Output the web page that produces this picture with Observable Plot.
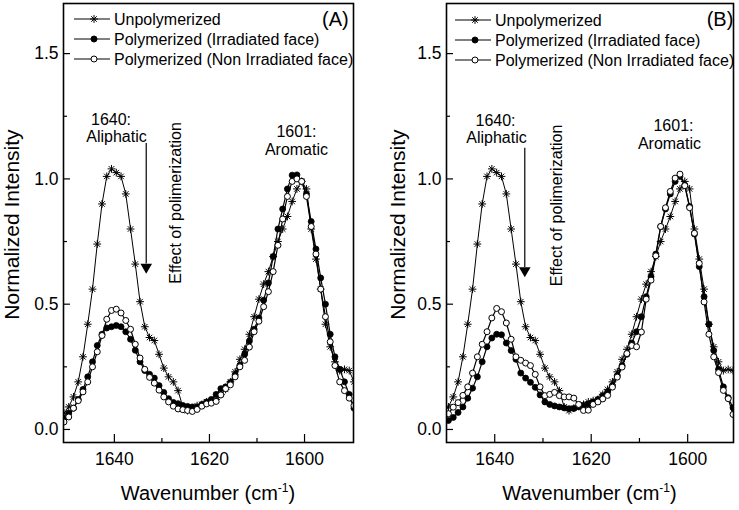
<!DOCTYPE html>
<html><head><meta charset="utf-8">
<script src="https://cdn.jsdelivr.net/npm/d3@7"></script>
<script src="https://cdn.jsdelivr.net/npm/@observablehq/plot@0.6"></script>
<style>
body{margin:0;background:#fff;}
#wrap{display:flex;width:739px;height:510px;background:#fff;}
svg{font-family:"Liberation Sans",Arial,sans-serif;}
</style></head><body><div id="wrap"></div>
<script>
// ---- data ----
const wavenumber = [1650.6,1649.6,1648.6,1647.6,1646.6,1645.6,1644.6,1643.6,1642.6,1641.6,
  1640.6,1639.6,1638.6,1637.6,1636.6,1635.6,1634.6,1633.6,1632.6,1631.6,
  1630.6,1629.6,1628.6,1627.6,1626.6,1625.6,1624.6,1623.6,1622.6,1621.6,
  1620.6,1619.6,1618.6,1617.6,1616.6,1615.6,1614.6,1613.6,1612.6,1611.6,
  1610.6,1609.6,1608.6,1607.6,1606.6,1605.6,1604.6,1603.6,1602.6,1601.6,
  1600.6,1599.6,1598.6,1597.6,1596.6,1595.6,1594.6,1593.6,1592.6,1591.6,
  1590.6,1589.6];
const seriesNames = ["Unpolymerized","Polymerized (Irradiated face)","Polymerized (Non Irradiated face)"];
const unpolyA = [0.065,0.09,0.13,0.19,0.29,0.42,0.56,0.74,0.90,1.01,1.04,1.025,1.01,0.94,0.80,0.66,0.51,0.41,0.367,0.355,0.30,0.245,0.21,0.19,0.155,0.09,0.075,0.085,0.095,0.10,0.11,0.115,0.12,0.14,0.16,0.19,0.23,0.28,0.32,0.38,0.45,0.52,0.58,0.63,0.69,0.75,0.80,0.85,0.91,0.96,0.99,0.96,0.80,0.68,0.56,0.42,0.33,0.27,0.235,0.24,0.235,0.19];
const irrA = [0.045,0.065,0.085,0.12,0.16,0.21,0.27,0.335,0.38,0.405,0.41,0.415,0.41,0.39,0.36,0.316,0.27,0.235,0.22,0.205,0.175,0.148,0.123,0.108,0.103,0.096,0.092,0.09,0.09,0.10,0.11,0.12,0.14,0.163,0.17,0.187,0.218,0.256,0.30,0.353,0.40,0.445,0.516,0.585,0.69,0.80,0.88,0.96,1.015,1.016,0.99,0.94,0.83,0.72,0.605,0.50,0.38,0.29,0.24,0.19,0.14,0.085];
const nonA = [0.03,0.05,0.085,0.115,0.15,0.19,0.25,0.31,0.375,0.44,0.475,0.48,0.465,0.435,0.40,0.34,0.285,0.24,0.208,0.185,0.157,0.13,0.11,0.093,0.082,0.079,0.076,0.072,0.08,0.093,0.102,0.105,0.112,0.138,0.163,0.178,0.21,0.25,0.276,0.329,0.39,0.432,0.49,0.55,0.63,0.735,0.84,0.93,0.99,1.0,0.99,0.93,0.81,0.70,0.56,0.45,0.35,0.255,0.19,0.155,0.125,0.095];
const unpolyB = [0.065,0.09,0.13,0.19,0.29,0.42,0.56,0.74,0.90,1.01,1.04,1.025,1.01,0.94,0.80,0.66,0.51,0.41,0.367,0.355,0.30,0.245,0.21,0.19,0.155,0.09,0.075,0.085,0.095,0.10,0.11,0.115,0.12,0.14,0.16,0.19,0.23,0.28,0.32,0.38,0.45,0.52,0.58,0.63,0.69,0.75,0.80,0.85,0.91,0.96,0.99,0.96,0.80,0.68,0.56,0.42,0.33,0.27,0.235,0.24,0.235,0.19];
const irrB = [0.025,0.036,0.048,0.068,0.09,0.125,0.165,0.21,0.27,0.33,0.365,0.38,0.378,0.345,0.315,0.28,0.225,0.205,0.188,0.168,0.138,0.11,0.1,0.094,0.09,0.086,0.083,0.084,0.09,0.096,0.102,0.11,0.12,0.135,0.15,0.175,0.215,0.255,0.30,0.345,0.39,0.45,0.53,0.61,0.70,0.81,0.88,0.94,0.99,1.01,0.975,0.89,0.78,0.65,0.53,0.42,0.315,0.24,0.17,0.127,0.087,0.05];
const nonB = [0.04,0.063,0.089,0.107,0.136,0.17,0.225,0.29,0.34,0.39,0.445,0.483,0.47,0.425,0.36,0.29,0.276,0.265,0.255,0.22,0.17,0.135,0.14,0.148,0.135,0.13,0.13,0.125,0.1,0.076,0.077,0.1,0.11,0.122,0.136,0.169,0.209,0.249,0.303,0.335,0.33,0.389,0.52,0.596,0.693,0.81,0.885,0.95,1.003,1.019,0.973,0.885,0.783,0.663,0.509,0.38,0.29,0.227,0.156,0.123,0.06,0.03];
const majorX = [1640,1620,1600];
const minorX = [1630,1610];
const majorY = [0,0.5,1.0,1.5];
const minorY = [0.25,0.75,1.25];

// 8-armed asterisk symbol
const asterisk8 = {draw(ctx, size){
  const r = Math.sqrt(size/Math.PI), d = r*Math.SQRT1_2;
  ctx.moveTo(-r,0);ctx.lineTo(r,0);ctx.moveTo(0,-r);ctx.lineTo(0,r);
  ctx.moveTo(-d,-d);ctx.lineTo(d,d);ctx.moveTo(-d,d);ctx.lineTo(d,-d);
}};

const FONT = '"Liberation Sans",Arial,sans-serif';

function panel(cfg){
  const H = 510, mt = 3, mb = 68;
  const innerW = cfg.width - cfg.ml - cfg.mr, innerH = H - mt - mb;
  const rows = vals => wavenumber.map((w,i)=>({w, v: vals[i]}));
  const a = cfg.ann;
  const plot = Plot.plot({
    width: cfg.width, height: H, marginLeft: cfg.ml, marginRight: cfg.mr, marginTop: mt, marginBottom: mb,
    style: {fontFamily: FONT, fontSize: "17.5px", color: "black", background: "white", overflow: "visible"},
    x: {domain: cfg.domain, label: null},
    y: {domain: [-0.052, 1.70], label: null},
    marks: [
      Plot.axisX({ticks: majorX, tickSize: 0, tickPadding: 10, label: null, tickFormat: d => String(d)}),
      Plot.axisY({ticks: majorY, tickSize: 0, tickPadding: 5, label: null, tickFormat: d3.format(".1f")}),
      Plot.tickX(majorX, {x: d => d, insetTop: innerH - 8, stroke: "black", strokeWidth: 1.2}),
      Plot.tickX(minorX, {x: d => d, insetTop: innerH - 4, stroke: "black", strokeWidth: 1.2}),
      Plot.tickY(majorY, {y: d => d, insetRight: innerW - 7, stroke: "black", strokeWidth: 1.2}),
      Plot.tickY(minorY, {y: d => d, insetRight: innerW - 4, stroke: "black", strokeWidth: 1.2}),
      Plot.line(rows(cfg.unpoly), {x: "w", y: "v", stroke: "black", strokeWidth: 1, clip: true}),
      Plot.dot(rows(cfg.unpoly), {x: "w", y: "v", symbol: asterisk8, r: 3.9, stroke: "black", fill: "none", strokeWidth: 1, clip: true}),
      Plot.line(rows(cfg.irr), {x: "w", y: "v", stroke: "black", strokeWidth: 1.2, clip: true}),
      Plot.dot(rows(cfg.irr), {x: "w", y: "v", r: 3, fill: "black", stroke: "black", strokeWidth: 0.8, clip: true}),
      Plot.line(rows(cfg.non), {x: "w", y: "v", stroke: "black", strokeWidth: 1.2, clip: true}),
      Plot.dot(rows(cfg.non), {x: "w", y: "v", r: 3, fill: "white", stroke: "black", strokeWidth: 1, clip: true}),
      // annotations
      Plot.text([a.t1], {x: "x", y: "y", text: "s", lineAnchor: "bottom", fontSize: 16, fill: "black"}),
      Plot.text([a.t2], {x: "x", y: "y", text: "s", lineAnchor: "bottom", fontSize: 16, fill: "black"}),
      Plot.text([a.t3], {x: "x", y: "y", text: "s", lineAnchor: "bottom", fontSize: 16, fill: "black"}),
      Plot.text([a.t4], {x: "x", y: "y", text: "s", lineAnchor: "bottom", fontSize: 16, fill: "black"}),
      Plot.text([a.rot], {x: "x", y: "y", text: "s", rotate: -90, lineAnchor: "middle", fontSize: 16, fill: "black"}),
      Plot.text([a.tag], {x: "x", y: "y", text: "s", textAnchor: "end", lineAnchor: "bottom", fontSize: 20, fill: "black"}),
      Plot.ruleX([a.arrow], {x: "x", y1: "y1", y2: "y2", stroke: "black", strokeWidth: 1.2}),
      Plot.dot([a.arrow], {x: "x", y: "yh", symbol: "triangle", rotate: 180, r: 4.3, fill: "black", stroke: "none"}),
      Plot.frame({stroke: "black", strokeWidth: 1.6})
    ]
  });
  const svg = d3.select(plot);
  // axis titles
  svg.append("text").attr("transform", `translate(${cfg.yTitleX},224.5) rotate(-90)`)
    .attr("text-anchor", "middle").attr("font-size", 21).attr("font-family", FONT).attr("fill", "black")
    .text("Normalized Intensity");
  const xt = svg.append("text").attr("x", cfg.ml + innerW/2).attr("y", 499.5)
    .attr("text-anchor", "middle").attr("font-size", 20).attr("font-family", FONT).attr("fill", "black");
  xt.append("tspan").text("Wavenumber (cm");
  xt.append("tspan").attr("dy", -8).attr("font-size", 12).text("-1");
  xt.append("tspan").attr("dy", 8).text(")");
  // legend
  const lg = svg.append("g").attr("font-family", FONT).attr("font-size", 16).attr("text-anchor", "start");
  const lx = cfg.legend.x, ly = cfg.legend.y;
  seriesNames.forEach((name, i) => {
    const y = ly + i*20;
    lg.append("line").attr("x1", lx).attr("x2", lx + 36).attr("y1", y).attr("y2", y).attr("stroke", "black").attr("stroke-width", 1);
    const cx = lx + 20;
    if (i === 0) {
      lg.append("path").attr("transform", `translate(${cx},${y})`)
        .attr("d", d3.symbol(asterisk8, Math.PI*3.9*3.9)()).attr("stroke", "black").attr("fill", "none");
    } else {
      lg.append("circle").attr("cx", cx).attr("cy", y).attr("r", 3)
        .attr("fill", i === 1 ? "black" : "white").attr("stroke", "black");
    }
    lg.append("text").attr("x", lx + 40).attr("y", y + 5.7).attr("text-anchor", "start").attr("fill", "black").text(name);
  });
  return plot;
}

const wrap = document.getElementById("wrap");
wrap.appendChild(panel({
  width: 370, ml: 63, mr: 17, domain: [1650.7, 1589.7],
  unpoly: unpolyA, irr: irrA, non: nonA, yTitleX: 18.5,
  legend: {x: 74, y: 19},
  ann: {
    t1: {x: 1640.7, y: 1.217, s: "1640:"},
    t2: {x: 1639.55, y: 1.146, s: "Aliphatic"},
    t3: {x: 1601.7, y: 1.169, s: "1601:"},
    t4: {x: 1601.7, y: 1.097, s: "Aromatic"},
    rot: {x: 1627.16, y: 0.904, s: "Effect of polimerization"},
    tag: {x: 1590.69, y: 1.612, s: "(A)"},
    arrow: {x: 1633.3, y1: 1.141, y2: 0.66, yh: 0.648}
  }
}));
wrap.appendChild(panel({
  width: 369, ml: 76, mr: 6, domain: [1650.0, 1590.5],
  unpoly: unpolyB, irr: irrB, non: nonB, yTitleX: 35,
  legend: {x: 85, y: 20},
  ann: {
    t1: {x: 1639.84, y: 1.213, s: "1640:"},
    t2: {x: 1639.64, y: 1.145, s: "Aliphatic"},
    t3: {x: 1602.95, y: 1.193, s: "1601:"},
    t4: {x: 1603.78, y: 1.121, s: "Aromatic"},
    rot: {x: 1627.12, y: 0.894, s: "Effect of polimerization"},
    tag: {x: 1590.53, y: 1.612, s: "(B)"},
    arrow: {x: 1633.77, y1: 1.122, y2: 0.646, yh: 0.634}
  }
}));
</script></body></html>
